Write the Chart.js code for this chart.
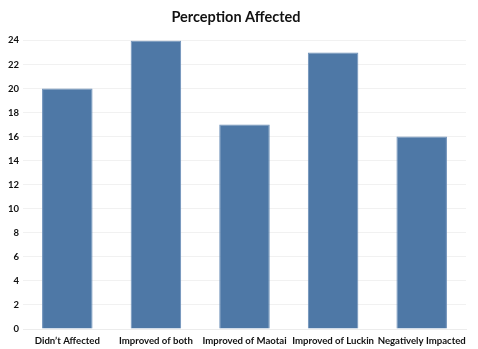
<!DOCTYPE html>
<html lang="en">

<head>
    <meta charset="UTF-8">
    <title>Perception Affected</title>
    <script src="https://cdn.jsdelivr.net/npm/chart.js@4.4.1/dist/chart.umd.min.js"></script>
    <style>
        html, body {
            margin: 0;
            padding: 0;
            background: #fff;
        }

        .chart-box {
            width: 478px;
            height: 349px;
            position: relative;
        }
    </style>
</head>

<body>
    <div class="chart-box">
        <canvas id="perceptionChart"></canvas>
    </div>

    <script>
        const categories = ['Didn\u2019t Affected', 'Improved of both', 'Improved of Maotai', 'Improved of Luckin', 'Negatively Impacted'];
        const responses = [20, 24, 17, 23, 16];
        const yTicks = [0, 2, 4, 6, 8, 10, 12, 14, 16, 18, 20, 22, 24];

        new Chart(document.getElementById('perceptionChart'), {
            type: 'bar',
            data: {
                labels: categories,
                datasets: [{
                    data: responses,
                    backgroundColor: '#4e78a6',
                    borderColor: '#6d90b9',
                    borderWidth: 1,
                    barPercentage: 0.57,
                    categoryPercentage: 1
                }]
            },
            options: {
                responsive: true,
                maintainAspectRatio: false,
                animation: false,
                layout: { padding: { left: 6, right: 12, bottom: 0 } },
                plugins: {
                    legend: { display: false },
                    tooltip: { enabled: false },
                    title: {
                        display: true,
                        text: 'Perception Affected',
                        color: '#111',
                        font: { family: 'Lato', size: 14.5, weight: 'bold' },
                        padding: { top: 9, bottom: 14 }
                    }
                },
                scales: {
                    x: {
                        grid: { display: false, drawTicks: false },
                        border: { color: '#ececec' },
                        afterFit: axis => {
                            axis.height = 20;
                        },
                        ticks: {
                            color: '#111',
                            font: { family: 'Lato', size: 9.6, weight: 'bold' },
                            maxRotation: 0,
                            autoSkip: false,
                            padding: 6
                        }
                    },
                    y: {
                        min: 0,
                        max: 24,
                        afterBuildTicks: axis => {
                            axis.ticks = yTicks.map(v => ({ value: v }));
                        },
                        afterFit: axis => {
                            axis.width = 17;
                        },
                        grid: { color: '#f1f1f1', drawTicks: false },
                        border: { display: false },
                        ticks: {
                            color: '#111',
                            font: { family: 'Lato', size: 9.5, weight: 'bold' },
                            padding: 4
                        }
                    }
                }
            }
        });
    </script>
</body>

</html>
